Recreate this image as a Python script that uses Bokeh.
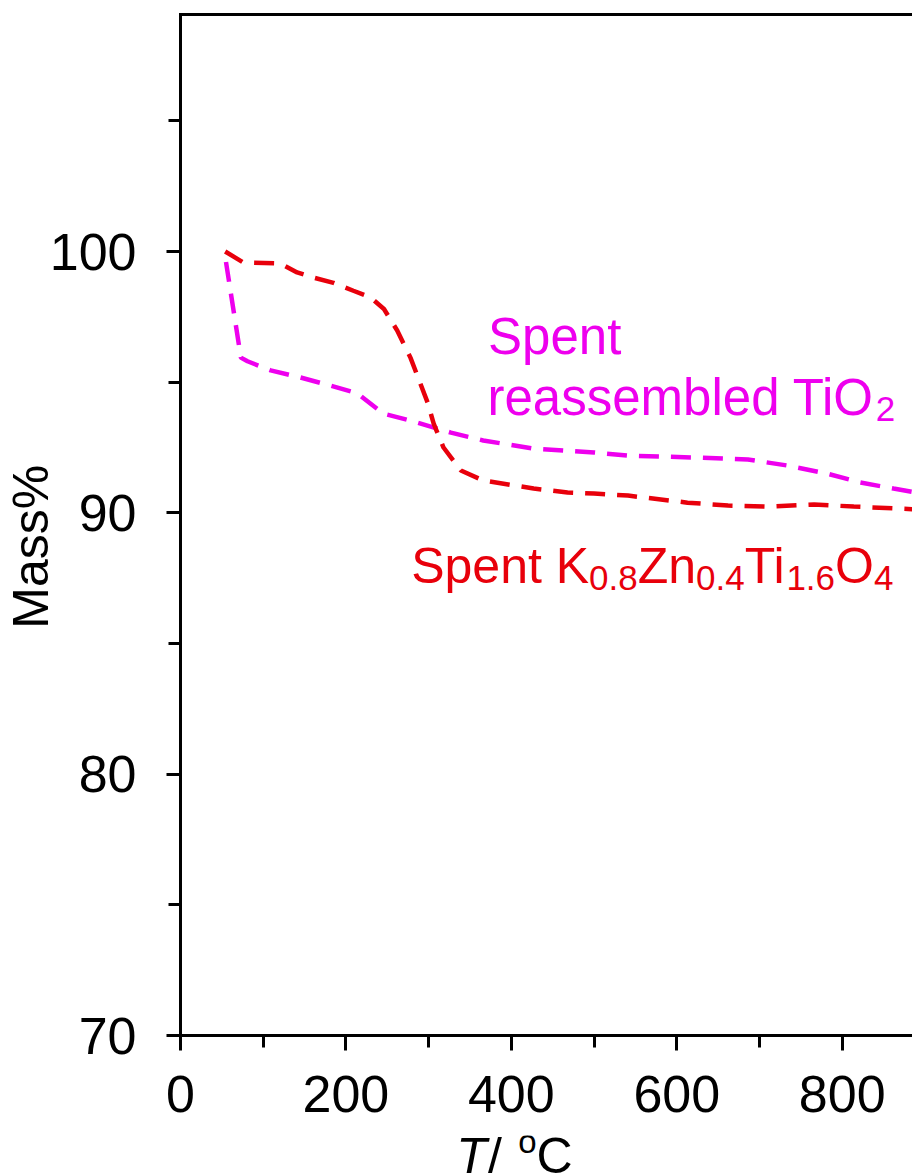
import math
from bokeh.plotting import figure
from bokeh.layouts import column
from bokeh.models import Range1d, SingleIntervalTicker, LinearAxis, FixedTicker, Label
from bokeh.core.properties import value
from bokeh.embed import file_html
from bokeh.resources import INLINE

# ---------------- data ----------------
pink_T = [55, 73, 81, 109, 145, 181, 214, 245, 278, 327, 366, 427, 500, 541,
          620, 686, 734, 782, 822, 862, 885]
pink_M = [99.6, 95.94, 95.8, 95.45, 95.18, 94.87, 94.57, 93.8, 93.53, 93.07,
          92.77, 92.46, 92.31, 92.19, 92.12, 92.04, 91.81, 91.5, 91.16, 90.93, 90.8]

red_T = [54, 76, 121, 141, 161, 185, 209, 230, 246, 262, 278, 290, 299, 306,
         318, 339, 366, 427, 468, 500, 541, 613, 662, 710, 766, 814, 885]
red_M = [100.0, 99.58, 99.54, 99.2, 99.0, 98.8, 98.5, 98.24, 97.8, 96.98, 95.94,
         94.95, 94.2, 93.42, 92.5, 91.62, 91.24, 90.93, 90.78, 90.74, 90.66,
         90.39, 90.28, 90.24, 90.32, 90.24, 90.14]

x_lim = (0, 885)
y_lim = (70, 109.07)
x_tick_interval = 200
y_tick_interval = 10

# axis titles
y_title = "Mass%"
y_title_at = 88.7
x_title_parts = ["T", "/", "o", "C"]          # italic T, raised o
x_title_at = [351.8, 380.1, 419.5, 452.2]     # centre of each piece on the T axis

PINK = "#EE00EE"
RED = "#E8000B"
FONT = "Liberation Sans"

# Arial / Liberation Sans advance widths (per em)
ADV = {"S": .667, "p": .556, "e": .556, "n": .556, "t": .278, " ": .278, "K": .667,
       ".": .278, "Z": .611, "T": .611, "i": .222, "O": .778, "r": .333, "a": .556,
       "s": .5, "m": .833, "b": .556, "l": .222, "d": .556}
for _d in "0123456789":
    ADV[_d] = .556


def width(txt, size):
    return sum(ADV.get(c, .556) for c in txt) * size


p = figure(width=912, height=1135, output_backend="svg", toolbar_location=None,
           x_range=Range1d(*x_lim), y_range=Range1d(*y_lim),
           min_border_left=180, min_border_right=0, min_border_top=14,
           min_border_bottom=100)
p.grid.visible = False
p.outline_line_color = None
p.background_fill_color = "white"
p.border_fill_color = "white"

p.line(pink_T, pink_M, line_color=PINK, line_width=4.5, line_dash="20 12")
p.line(red_T, red_M, line_color=RED, line_width=4.5, line_dash="20 12")

xa = p.xaxis[0]
ya = p.yaxis[0]
xa.ticker = SingleIntervalTicker(interval=x_tick_interval, num_minor_ticks=2)
ya.ticker = SingleIntervalTicker(interval=y_tick_interval, num_minor_ticks=2)
for ax in (xa, ya):
    ax.axis_line_width = 3
    ax.axis_line_cap = "square"
    ax.major_tick_line_width = 3
    ax.minor_tick_line_width = 3
    ax.major_tick_in = 0
    ax.minor_tick_in = 0
    ax.major_label_text_font = FONT
    ax.major_label_text_font_size = "52px"
    ax.major_label_text_color = "black"
xa.major_tick_out = 15
xa.minor_tick_out = 12
xa.major_label_standoff = 25
ya.major_tick_out = 14
ya.minor_tick_out = 12
ya.major_label_standoff = 30

top = LinearAxis(ticker=FixedTicker(ticks=[]), axis_line_width=3, axis_line_cap="square",
                 major_tick_out=0, major_tick_in=0, minor_tick_out=0, minor_tick_in=0,
                 major_label_standoff=0, major_label_text_font_size="0px")
p.add_layout(top, "above")

# y-axis title as a parallel label on an extra (invisible) left axis
ytitle = LinearAxis(ticker=FixedTicker(ticks=[y_title_at]),
                    major_label_overrides={y_title_at: y_title},
                    axis_line_color=None, major_tick_line_color=None,
                    minor_tick_line_color=None,
                    major_tick_out=0, major_tick_in=0, minor_tick_out=0, minor_tick_in=0,
                    major_label_standoff=-13, major_label_orientation="parallel",
                    major_label_text_font=FONT, major_label_text_font_size="50px",
                    major_label_text_color="black")
p.add_layout(ytitle, "left")


def add_parts(x, y, parts, color):
    off = 0.0
    for txt, size, dy in parts:
        p.add_layout(Label(x=x, y=y, x_offset=off, y_offset=dy, text=txt,
                           text_font=FONT, text_font_size=f"{size}px",
                           text_color=color, text_align="left",
                           text_baseline="alphabetic"))
        off += width(txt, size)


# annotations
add_parts(371.8, 96.75, [("Spent", 51, 0)], PINK)
add_parts(371.2, 94.41, [("reassembled TiO", 51, 0), ("2", 35, -11)], PINK)
add_parts(278.9, 87.98, [("Spent K", 50, 0), ("0.8", 35, -12), ("Zn", 50, 0),
                         ("0.4", 35, -12), ("Ti", 50, 0), ("1.6", 35, -12),
                         ("O", 50, 0), ("4", 35, -12)], RED)

# strip below the plot carrying the x-axis title "T/ oC"
px = figure(width=912, height=40, output_backend="svg", toolbar_location=None,
            x_range=p.x_range, y_range=Range1d(0, 40),
            x_axis_type=None, y_axis_type=None,
            min_border_left=180, min_border_right=0, min_border_top=0,
            min_border_bottom=0)
px.outline_line_color = None
px.background_fill_color = "white"
px.border_fill_color = "white"
styles = ["italic", "normal", "normal", "normal"]
sizes = ["50px", "50px", "33px", "50px"]
lifts = [20, 20, 34, 20]
for t, xc, st, fs, yb in zip(x_title_parts, x_title_at, styles, sizes, lifts):
    px.text(x=[xc], y=[yb], text=[t], text_font=value(FONT), text_font_size=value(fs),
            text_font_style=st, text_color="black", text_align="center",
            text_baseline="alphabetic")

layout = column(p, px, spacing=0)
open("out.html", "w").write(file_html(layout, INLINE))
